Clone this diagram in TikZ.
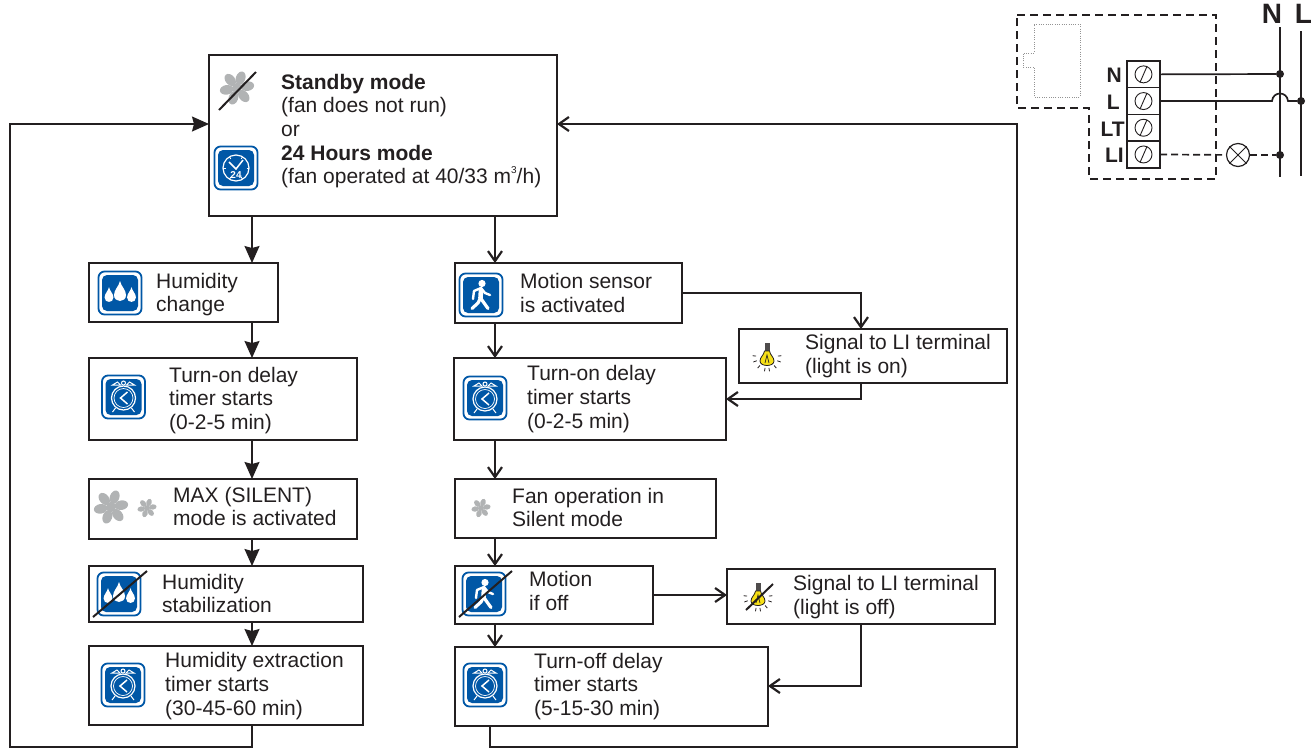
\documentclass[tikz,border=0pt]{standalone}
\usepackage{fontspec}
\setmainfont{Liberation Sans}
\usetikzlibrary{arrows.meta}

\definecolor{ink}{HTML}{231F20}
\definecolor{iconblue}{HTML}{0057A6}
\definecolor{fangrey}{HTML}{B1B3B4}
\definecolor{bulbyellow}{HTML}{F7E017}

\tikzset{
  flow_box/.style={draw=ink,line width=1.4pt,anchor=north west,inner sep=0pt,outer sep=0pt},
  flow_text/.style={anchor=west,align=left,text=ink,inner sep=0pt,font=\fontsize{21}{23.7}\selectfont},
  flow_line/.style={draw=ink,line width=1.5pt},
  flow_arrow/.style={flow_line,-{Straight Barb[length=10pt,width=14pt,line width=2.2pt]}},
  solid_arrow/.style={flow_line,-{Stealth[length=17pt,width=15pt,inset=2pt]}},
  slash_line/.style={draw=ink,line width=2pt},
  wire/.style={draw=ink,line width=1.7pt},
  wire_dash/.style={wire,dash pattern=on 7pt off 4pt},
  wire_dot/.style={circle,fill=ink,inner sep=0pt,minimum size=8pt},
  term_cell/.style={draw=ink,line width=1.5pt,anchor=north west,minimum width=33pt,minimum height=26.7pt,inner sep=0pt,outer sep=0pt},
  term_label/.style={anchor=east,inner sep=0pt,text=ink,font=\fontsize{21}{21}\selectfont\bfseries},
  icon_frame/.pic={
    \draw[iconblue,fill=white,line width=1.8pt,rounded corners=6pt] (-21.5,-21.5) rectangle (21.5,21.5);
    \fill[iconblue,rounded corners=5pt] (-18,-18) rectangle (18,18);
  },
  icon_clock/.pic={
    \pic {icon_frame};
    \draw[white,line width=1pt] (-11,-12) -- (-6,-15) -- (-3,-12) -- cycle;
    \draw[white,line width=1pt] (11,-12) -- (6,-15) -- (3,-12) -- cycle;
    \draw[white,line width=1pt] (0,-14) circle (2);
    \draw[white,line width=1pt] (-8,11) -- (-11,15) (8,11) -- (11,15);
    \draw[white,line width=1.2pt] (0,1) circle (12);
    \draw[white,line width=.7pt] (0,1) circle (9.5);
    \draw[white,line width=1.5pt] (4,-5) -- (-3,1) -- (4,7);
  },
  icon_day/.pic={
    \pic {icon_frame};
    \draw[white,line width=1.2pt] (0,0) circle (13);
    \foreach \a in {0,60,120,180,240,300} {
      \draw[white,line width=.8pt] (\a:10.5) -- (\a:13);
    }
    \draw[white,line width=1.5pt] (-7,-6) -- (0,1) -- (7,-8);
    \node[text=white,inner sep=0pt,font=\fontsize{10}{10}\selectfont\bfseries] (day_num) at (0,7) {24};
  },
  icon_drops/.pic={
    \pic {icon_frame};
    \foreach \x/\y/\s in {-11/3/.74,0/0/1,11.5/3/.74} {
      \fill[white,shift={(\x,\y)},scale=\s] (0,-12) .. controls (1,-7) and (6,-3) .. (6,2)
        .. controls (6,10) and (-6,10) .. (-6,2) .. controls (-6,-3) and (-1,-7) .. (0,-12) -- cycle;
    }
  },
  icon_walker/.pic={
    \pic {icon_frame};
    \fill[white] (1,-11.5) circle (3.6);
    \draw[white,line width=4.6pt,line cap=round,line join=round] (0,-5) -- (-.5,3);
    \draw[white,line width=3.2pt,line cap=round,line join=round] (-.5,3) -- (7,13.5);
    \draw[white,line width=3.2pt,line cap=round,line join=round] (-.5,3) -- (-3,8) -- (-9,13.5);
    \draw[white,line width=2.4pt,line cap=round,line join=round] (-8,4) -- (-7,-4) -- (0,-7) -- (4,-2) -- (9,0);
  },
  icon_fan/.pic={
    \fill[fangrey] (0,0) circle (.3);
    \foreach \a in {10,70,...,310} {
      \fill[fangrey,rotate=\a] (.62,0) ellipse [x radius=.4,y radius=.28];
      \fill[fangrey,rotate=\a] (.1,-.08) rectangle (.5,.08);
    }
  },
  icon_bulb/.pic={
    \fill[ink!80] (-2.5,-14) rectangle (2.5,-6);
    \draw[ink,fill=bulbyellow,line width=.8pt] (-2.5,-6) .. controls (-3,-2) and (-7,0) .. (-7,4)
      .. controls (-7,10) and (7,10) .. (7,4) .. controls (7,0) and (3,-2) .. (2.5,-6) -- cycle;
    \draw[ink,line width=.7pt] (-2,6) -- (0,-2) -- (2,6);
    \foreach \a in {100,130,160,20,50,80,185,-5} {
      \draw[ink,line width=.8pt] (\a:11) -- (\a:14.5);
    }
  }
}

\begin{document}
\begin{tikzpicture}[x=1pt,y=-1pt]
    \useasboundingbox (0,0) rectangle (1312,748);

    % left and right columns of the flow
    \coordinate (col_left) at (252,0);
    \coordinate (col_right) at (495,0);

    \node[flow_box,minimum width=348pt,minimum height=161pt] (standby) at (209,55) {};
    \node[flow_box,minimum width=189pt,minimum height=59pt] (humid) at (89,263) {};
    \node[flow_box,minimum width=268pt,minimum height=82pt] (delay_a) at (89,358) {};
    \node[flow_box,minimum width=268pt,minimum height=60pt] (maxmode) at (89,479) {};
    \node[flow_box,minimum width=274pt,minimum height=56pt] (stable) at (89,566) {};
    \node[flow_box,minimum width=274pt,minimum height=79pt] (extract) at (89,646) {};

    \node[flow_box,minimum width=227pt,minimum height=60pt] (motion) at (455,263) {};
    \node[flow_box,minimum width=268pt,minimum height=54pt] (light_on) at (739,329) {};
    \node[flow_box,minimum width=272pt,minimum height=82pt] (delay_b) at (454,358) {};
    \node[flow_box,minimum width=261pt,minimum height=59pt] (silent) at (455,479) {};
    \node[flow_box,minimum width=198pt,minimum height=58pt] (motion_off) at (455,566) {};
    \node[flow_box,minimum width=268pt,minimum height=55pt] (light_off) at (727,569) {};
    \node[flow_box,minimum width=313pt,minimum height=79pt] (delay_c) at (455,647) {};

    \node[flow_text] (t_standby) at (281,131) {\textbf{Standby mode}\\(fan does not run)\\or\\\textbf{24 Hours mode}\\(fan operated at 40/33 m\raisebox{.5em}{\fontsize{10}{10}\selectfont 3}/h)};
    \node[flow_text] (t_humid) at (156,294.5) {Humidity\\change};
    \node[flow_text] (t_delay_a) at (169,400.5) {Turn-on delay\\timer starts\\(0-2-5 min)};
    \node[flow_text] (t_maxmode) at (173,506.5) {MAX (SILENT)\\mode is activated};
    \node[flow_text] (t_stable) at (162,593.5) {Humidity\\stabilization};
    \node[flow_text] (t_extract) at (165,686) {Humidity extraction\\timer starts\\(30-45-60 min)};
    \node[flow_text] (t_motion) at (520,293) {Motion sensor\\is activated};
    \node[flow_text] (t_light_on) at (805,356) {Signal to LI terminal\\(light is on)};
    \node[flow_text] (t_delay_b) at (527,399) {Turn-on delay\\timer starts\\(0-2-5 min)};
    \node[flow_text] (t_silent) at (512,507.5) {Fan operation in\\Silent mode};
    \node[flow_text] (t_motion_off) at (529,591) {Motion\\if off};
    \node[flow_text] (t_light_off) at (793,597) {Signal to LI terminal\\(light is off)};
    \node[flow_text] (t_delay_c) at (534,686.5) {Turn-off delay\\timer starts\\(5-15-30 min)};

    % icons
    \pic[scale=17] at (237,88) {icon_fan};
    \draw[slash_line] (219,110) -- (256,72);
    \pic at (236,168) {icon_day};
    \pic at (120,293) {icon_drops};
    \pic at (123.5,397) {icon_clock};
    \pic[scale=17] at (111,507) {icon_fan};
    \pic[scale=9.5] at (147,508) {icon_fan};
    \pic at (119,594) {icon_drops};
    \draw[slash_line] (93,617) -- (147,571);
    \pic at (123,685) {icon_clock};
    \pic at (481,295) {icon_walker};
    \pic at (767,357) {icon_bulb};
    \pic at (485,398) {icon_clock};
    \pic[scale=9.5] at (481,508) {icon_fan};
    \pic at (484,594) {icon_walker};
    \draw[slash_line] (459,617) -- (512,571);
    \pic at (758,597) {icon_bulb};
    \draw[slash_line] (746,610) -- (773,584);
    \pic at (485,685) {icon_clock};

    % flow connectors
    \path[every edge/.append style={solid_arrow}]
    (standby.south -| col_left) edge (humid.north -| col_left)
    (humid.south -| col_left) edge (delay_a.north -| col_left)
    (delay_a.south -| col_left) edge (maxmode.north -| col_left)
    (maxmode.south -| col_left) edge (stable.north -| col_left)
    (stable.south -| col_left) edge (extract.north -| col_left);

    \path[every edge/.append style={flow_arrow}]
    (standby.south -| col_right) edge (motion.north -| col_right)
    (motion.south -| col_right) edge (delay_b.north -| col_right)
    (delay_b.south -| col_right) edge (silent.north -| col_right)
    (silent.south -| col_right) edge (motion_off.north -| col_right)
    (motion_off.south -| col_right) edge (delay_c.north -| col_right);

    \coordinate (side_on) at (861,0);
    \coordinate (side_off) at (861,0);
    \draw[flow_arrow] (motion.east |- 0,293) -| (light_on.north -| side_on);
    \draw[flow_arrow] (light_on.south -| side_on) |- (delay_b.east |- 0,399);
    \draw[flow_arrow] (motion_off.east |- 0,595) -- (light_off.west |- 0,595);
    \draw[flow_arrow] (light_off.south -| side_off) |- (delay_c.east |- 0,686);

    \coordinate (loop_a) at (252,747);
    \coordinate (loop_b) at (10,747);
    \coordinate (loop_c) at (490,747);
    \coordinate (loop_d) at (1017,747);
    \draw[solid_arrow] (extract.south -| loop_a) -- (loop_a) -- (loop_b) |- (standby.west |- 0,124);
    \draw[flow_arrow] (delay_c.south -| loop_c) -- (loop_c) -- (loop_d) |- (standby.east |- 0,124);

    % wiring
    \draw[ink,line width=1.1pt,dash pattern=on 8pt off 5pt] (1017,15) -- (1216,15) -- (1216,179) -- (1089,179) -- (1089,108) -- (1017,108) -- cycle;
    \draw[gray!85,line width=1pt,dash pattern=on 1pt off 1.3pt] (1034,24) -- (1080,24) -- (1080,97) -- (1034,97) -- (1034,67) -- (1023,67) -- (1023,53) -- (1034,53) -- cycle;

    \node[term_cell] (term_n) at (1127,61) {};
    \node[term_cell] (term_l) at (1127,87.7) {};
    \node[term_cell] (term_lt) at (1127,114.4) {};
    \node[term_cell] (term_li) at (1127,141.1) {};
    \foreach \t in {term_n,term_l,term_lt,term_li} {
      \draw[ink,line width=.9pt] (\t.center) circle (8.5);
      \draw[ink,line width=.9pt] ([shift={(-3.5,8)}]\t.center) -- ([shift={(3.5,-8)}]\t.center);
    }
    \node[term_label] (lab_n) at (1122,75) {N};
    \node[term_label] (lab_l) at (1120,102) {L};
    \node[term_label] (lab_lt) at (1125,129) {LT};
    \node[term_label] (lab_li) at (1124,155) {LI};

    \node[anchor=base,inner sep=0pt,text=ink,font=\fontsize{28}{28}\selectfont\bfseries] (bus_n) at (1272,23) {N};
    \node[anchor=base,inner sep=0pt,text=ink,font=\fontsize{28}{28}\selectfont\bfseries] (bus_l) at (1303.5,23) {L};
    \coordinate (bus_n_top) at (1280,27);
    \coordinate (bus_l_top) at (1301,31);
    \coordinate (bus_n_end) at (1280,177);
    \coordinate (bus_l_end) at (1301,176);
    \draw[wire] (bus_n_top) -- (bus_n_end);
    \draw[wire] (bus_l_top) -- (bus_l_end);

    \node[wire_dot] (dot_n) at (1280,74) {};
    \node[wire_dot] (dot_l) at (1301,101) {};
    \node[wire_dot] (dot_li) at (1280,155) {};
    \node[circle,draw=ink,fill=white,line width=1.2pt,minimum size=23pt,inner sep=0pt] (lamp) at (1238,155) {};
    \draw[ink,line width=1pt] (lamp.45) -- (lamp.225) (lamp.135) -- (lamp.315);

    \draw[wire] (term_n.east) -- (dot_n);
    \draw[wire] (term_l.east) -- (1272,101) .. controls (1273,91) and (1287,91) .. (1288,101) -- (dot_l);
    \draw[wire_dash] (term_li.east) -- (lamp);
    \draw[wire_dash] (lamp) -- (dot_li);

\end{tikzpicture}
\end{document}
